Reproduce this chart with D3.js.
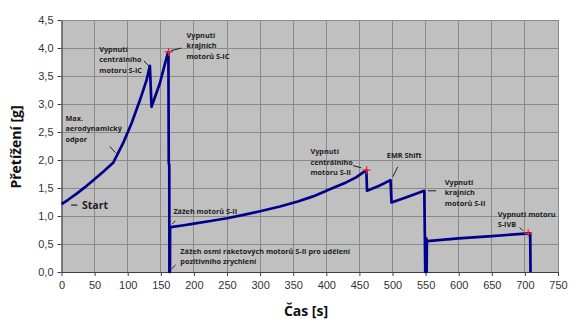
<!DOCTYPE html>
<html>
<head>
<meta charset="utf-8">
<script src="https://cdn.jsdelivr.net/npm/d3@7/dist/d3.min.js"></script>
<style>
  html, body { margin: 0; padding: 0; background: #fff; }
  svg { display: block; }
</style>
</head>
<body>
<svg id="chart" width="587" height="335"></svg>
<script>
// Saturn V ascent: g-load over time
const time = [0, 10, 23, 35, 48, 63, 78, 93, 106, 118.5, 128.6, 133.5,
  136, 148.6, 159.7, 161.5, 162, 162.8, 163, 163.8, 164, 165,
  185, 200, 225, 250, 275, 300, 330, 357, 380, 408, 430, 445, 460.5,
  461.5, 480, 497, 498.5, 520, 548,
  548.8, 549.5, 550, 550.5, 551, 551.5, 552, 552.6,
  600, 650, 705, 708, 708.5];
const gLoad = [1.21, 1.29, 1.40, 1.51, 1.64, 1.79, 1.95, 2.30, 2.66, 3.07, 3.43, 3.68,
  2.95, 3.37, 3.87, 3.93, 1.95, 1.9, 0.0, 0.0, 0.78, 0.80,
  0.835, 0.865, 0.91, 0.96, 1.02, 1.085, 1.17, 1.26, 1.35, 1.49, 1.60, 1.69, 1.82,
  1.45, 1.54, 1.64, 1.24, 1.33, 1.45,
  0.72, 0.0, 0.6, 0.0, 0.6, 0.0, 0.57, 0.55,
  0.6, 0.64, 0.69, 0.69, 0.0];

// events marked with a red cross
const markT = [162, 461, 705];
const markG = [3.93, 1.82, 0.69];

const xTicks = d3.range(0, 751, 50);
const yTicks = d3.range(0, 4.51, 0.5);

// annotations: text lines, anchor (data coords of text's left / first line centre), leader line
const notes = [
  { lines: ["Vypnutí", "centrálního", "motoru S-IC"], t: 57, g: 3.98, lead: [[124.5, 3.77], [133.5, 3.66]] },
  { lines: ["Vypnutí", "krajních", "motorů S-IC"], t: 189, g: 4.226, lead: [[165, 3.95], [181, 4.0]] },
  { lines: ["Max.", "aerodynamický", "odpor"], t: 6, g: 2.745, lead: [[73, 2.24], [81.7, 2.13]] },
  { lines: ["Zážeh motorů S-II"], t: 169, g: 1.078, lead: [[167, 0.855], [172, 0.915]] },
  { lines: ["Zážeh osmi raketových motorů S-II pro udělení", "pozitivního zrychlení"], t: 179.5, g: 0.375, lead: [[166.3, 0.054], [172.3, 0.125]] },
  { lines: ["Vypnutí", "centrálního", "motoru S-II"], t: 376, g: 2.148, lead: [[440.5, 1.9], [453, 1.86]] },
  { lines: ["EMR Shift"], t: 491.5, g: 2.09, lead: [[500.5, 1.7], [508, 1.88]] },
  { lines: ["Vypnutí", "krajních", "motorů S-II"], t: 579, g: 1.602, lead: [[553.5, 1.45], [566, 1.45]] },
  { lines: ["Vypnutí motoru", "S-IVB"], t: 659, g: 1.031, lead: [[692, 0.798], [697, 0.738]] }
];

const svg = d3.select("#chart");
const margin = { left: 61.5, right: 29, top: 20, bottom: 63 };
const W = 587, H = 335;
const x = d3.scaleLinear().domain([0, 750]).range([margin.left, W - margin.right]);
const y = d3.scaleLinear().domain([0, 4.5]).range([H - margin.bottom, margin.top]);

// plot background
svg.append("rect")
  .attr("x", x(0)).attr("y", y(4.5))
  .attr("width", x(750) - x(0)).attr("height", y(0) - y(4.5))
  .attr("fill", "#c0c0c0");

// grid
svg.append("g").selectAll("line").data(xTicks.slice(1)).join("line")
  .attr("x1", d => x(d)).attr("x2", d => x(d))
  .attr("y1", y(0)).attr("y2", y(4.5))
  .attr("stroke", "#8a8a8a").attr("stroke-width", 1).attr("shape-rendering", "crispEdges");
svg.append("g").selectAll("line").data(yTicks.slice(1)).join("line")
  .attr("x1", x(0)).attr("x2", x(750))
  .attr("y1", d => y(d)).attr("y2", d => y(d))
  .attr("stroke", "#8a8a8a").attr("stroke-width", 1).attr("shape-rendering", "crispEdges");

// axes
const fmt = d3.format(".1f");
const xAxis = svg.append("g")
  .attr("transform", `translate(0,${y(0)})`)
  .call(d3.axisBottom(x).tickValues(xTicks).tickSize(4).tickPadding(5).tickSizeOuter(0));
const yAxis = svg.append("g")
  .attr("transform", `translate(${x(0)},0)`)
  .call(d3.axisLeft(y).tickValues(yTicks).tickSize(4).tickPadding(4).tickSizeOuter(0)
    .tickFormat(d => fmt(d).replace(".", ",")));
[xAxis, yAxis].forEach(a => {
  a.select(".domain").attr("stroke", "#404040").attr("stroke-width", 1.2);
  a.selectAll(".tick line").attr("stroke", "#404040");
  a.selectAll(".tick text")
    .attr("font-family", "Liberation Sans, Arial, sans-serif")
    .attr("font-size", 11).attr("fill", "#333");
});

// axis titles
svg.append("text")
  .attr("x", 306).attr("y", 316)
  .attr("text-anchor", "middle")
  .attr("font-family", "Open Sans, sans-serif").attr("font-weight", 700)
  .attr("font-size", 14).attr("fill", "#111")
  .text("Čas [s]");
svg.append("text")
  .attr("transform", "translate(21,147) rotate(-90)")
  .attr("text-anchor", "middle")
  .attr("font-family", "Open Sans, sans-serif").attr("font-weight", 700)
  .attr("font-size", 14).attr("fill", "#111")
  .text("Přetížení [g]");

// g-load curve
const pts = time.map((t, i) => [t, gLoad[i]]);
svg.append("path")
  .datum(pts)
  .attr("fill", "none")
  .attr("stroke", "#00008b")
  .attr("stroke-width", 2.7)
  .attr("stroke-linejoin", "round")
  .attr("d", d3.line().x(d => x(d[0])).y(d => y(d[1])));

// event crosses
svg.append("g").selectAll("path").data(markT.map((t, i) => [t, markG[i]])).join("path")
  .attr("d", d => {
    const cx = x(d[0]), cy = y(d[1]);
    return `M${cx - 4},${cy}H${cx + 4}M${cx},${cy - 4}V${cy + 4}`;
  })
  .attr("stroke", "#ff2020").attr("stroke-width", 1.2).attr("fill", "none");

// annotations
const ann = svg.append("g");
notes.forEach(n => {
  ann.append("line")
    .attr("x1", x(n.lead[0][0])).attr("y1", y(n.lead[0][1]))
    .attr("x2", x(n.lead[1][0])).attr("y2", y(n.lead[1][1]))
    .attr("stroke", "#222").attr("stroke-width", 1);
  const txt = ann.append("text")
    .attr("font-family", "Open Sans, sans-serif").attr("font-weight", 700)
    .attr("font-size", 7.3).attr("fill", "#222");
  n.lines.forEach((l, i) => {
    txt.append("tspan")
      .attr("x", x(n.t)).attr("y", y(n.g) + i * 10.5)
      .attr("dy", "0.35em")
      .text(l);
  });
});

// start label
ann.append("line")
  .attr("x1", x(14.5)).attr("y1", y(1.195))
  .attr("x2", x(24)).attr("y2", y(1.195))
  .attr("stroke", "#222").attr("stroke-width", 1.2);
ann.append("text")
  .attr("x", x(31)).attr("y", y(1.195)).attr("dy", "0.35em")
  .attr("font-family", "Open Sans, sans-serif").attr("font-weight", 700)
  .attr("font-size", 10.5).attr("fill", "#222")
  .text("Start");
</script>
</body>
</html>
